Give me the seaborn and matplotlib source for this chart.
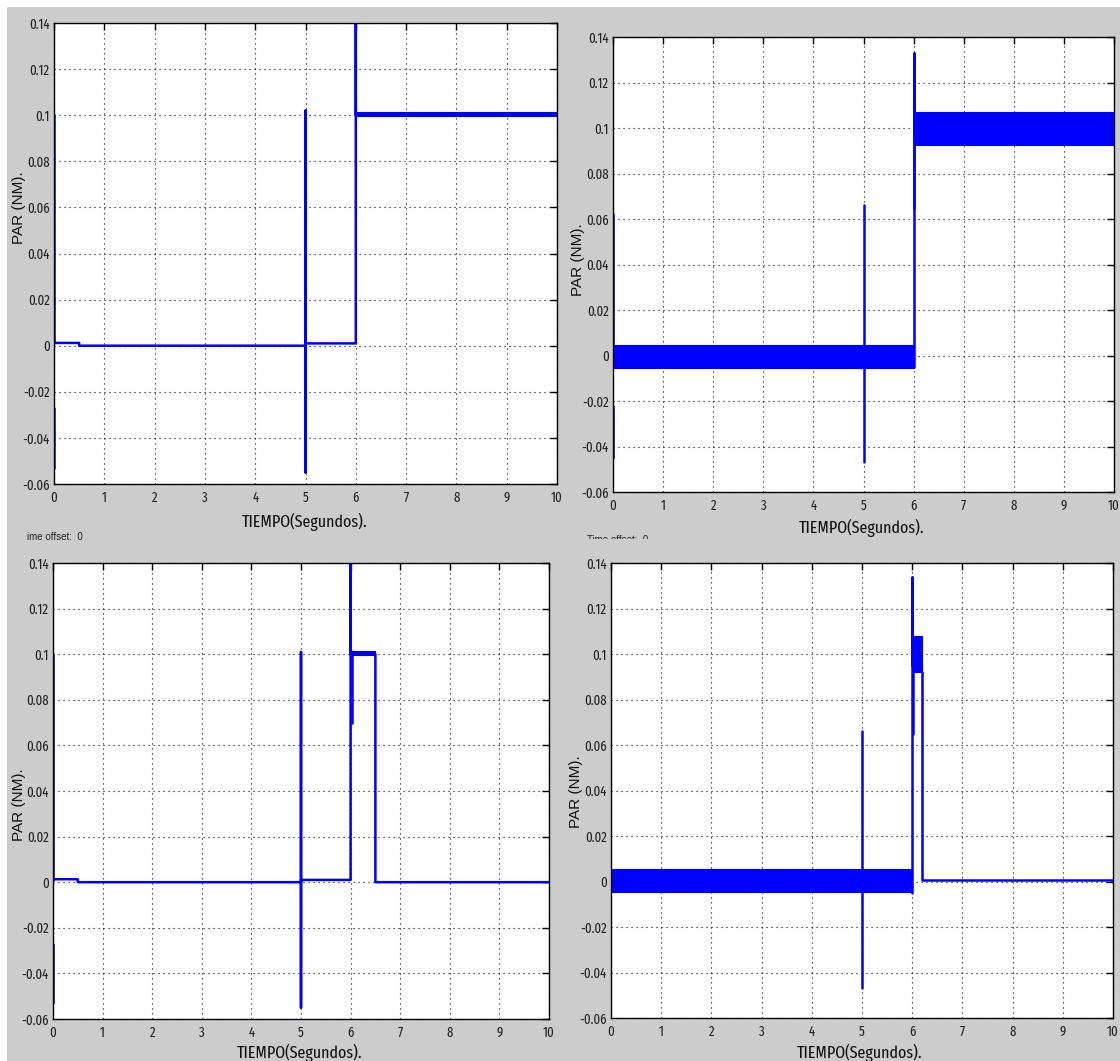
import matplotlib
matplotlib.use("Agg")
import matplotlib.pyplot as plt
import matplotlib.patches as mpatches
from matplotlib.transforms import Bbox
import pandas as pd
import seaborn as sns

# ---------------- data: torque (N·m) against time (s) ----------------
# Panel A: load step at 6 s, held to the end
a_piece = [0, 0, 1, 1, 2, 2, 2, 2, 2, 2, 2, 2, 2, 2, 2, 2]
a_time = [0, 0, 0, 0, 0, 0.5, 0.5, 5.0, 5.0, 5.0, 5.0, 6.0, 6.0, 6.0, 6.03, 10.0]
a_torque = [0.1, 0.001, -0.027, -0.053, 0.0012, 0.0012, 0.0, 0.0, 0.102, -0.055,
            0.001, 0.001, 0.15, 0.1, 0.1008, 0.1003]
a_band_time = [6.03, 10.0]
a_band_low = [0.0995, 0.0995]
a_band_high = [0.1012, 0.1012]

# Panel B: same load step, ripple band on the torque
b_piece = [0, 0, 1, 1, 2, 2, 3, 3, 3, 4, 4]
b_time = [0, 0, 0, 0, 5.0, 5.0, 6.0, 6.0, 6.0, 6.01, 6.01]
b_torque = [0.062, 0.0, -0.022, -0.045, -0.047, 0.066, -0.005, 0.133, 0.095, 0.107, 0.065]
b_band_time = [[0.0, 6.0], [6.02, 10.0]]
b_band_low = [[-0.0053, -0.0053], [0.0925, 0.0925]]
b_band_high = [[0.0048, 0.0048], [0.107, 0.107]]

# Panel C: load applied at 6 s, removed at 6.5 s
c_piece = [0, 0, 1, 1, 2, 2, 2, 2, 2, 2, 2, 2, 2, 2, 2, 2, 2, 2, 3, 3]
c_time = [0, 0, 0, 0, 0, 0.5, 0.5, 5.0, 5.0, 5.0, 5.0, 6.0, 6.0, 6.0, 6.03, 6.5, 6.5, 10.0,
          6.02, 6.02]
c_torque = [0.1, 0.001, -0.027, -0.053, 0.0013, 0.0013, 0.0, 0.0, 0.101, -0.055, 0.001,
            0.001, 0.15, 0.1, 0.101, 0.1, 0.0, 0.0, 0.07, 0.1]
c_band_time = [6.03, 6.5]
c_band_low = [0.0995, 0.0995]
c_band_high = [0.1015, 0.1015]

# Panel D: load applied at 6 s, removed at 6.2 s, ripple band
d_piece = [0, 0, 1, 1, 1, 2, 2, 3, 3, 3]
d_time = [5.0, 5.0, 6.0, 6.0, 6.0, 6.01, 6.01, 6.2, 6.2, 10.0]
d_torque = [-0.047, 0.066, -0.005, 0.134, 0.095, 0.107, 0.065, 0.092, 0.0007, 0.0007]
d_band_time = [[0.0, 6.0], [6.02, 6.2]]
d_band_low = [[-0.0046, -0.0046], [0.092, 0.092]]
d_band_high = [[0.0055, 0.0055], [0.108, 0.108]]

x_ticks = [0, 1, 2, 3, 4, 5, 6, 7, 8, 9, 10]
x_tick_labels = ["0", "1", "2", "3", "4", "5", "6", "7", "8", "9", "10"]
y_ticks = [-0.06, -0.04, -0.02, 0.0, 0.02, 0.04, 0.06, 0.08, 0.1, 0.12, 0.14]
y_tick_labels = ["-0.06", "-0.04", "-0.02", "0", "0.02", "0.04", "0.06", "0.08",
                 "0.1", "0.12", "0.14"]

x_title = "TIEMPO(Segundos)."
y_title = "PAR (NM)."

# ---------------- figure ----------------
sns.set_style("white")
narrow = ["Fira Sans Extra Condensed", "Roboto Condensed", "Liberation Sans", "DejaVu Sans"]
plt.rcParams["font.family"] = narrow

W, H = 1120, 1061
fig = plt.figure(figsize=(W / 100, H / 100), dpi=100)
fig.patch.set_facecolor("#cccccc")

# white margins along the top and the left edge
fig.patches.append(mpatches.Rectangle((0, 1 - 7 / H), 1, 7 / H, transform=fig.transFigure,
                                      facecolor="white", edgecolor="none", zorder=0))
fig.patches.append(mpatches.Rectangle((0, 0), 7 / W, 1, transform=fig.transFigure,
                                      facecolor="white", edgecolor="none", zorder=0))


def px_rect(x0, y0, x1, y1):
    return [x0 / W, 1 - y1 / H, (x1 - x0) / W, (y1 - y0) / H]


panels = [
    dict(rect=px_rect(54, 23, 557, 484), piece=a_piece, t=a_time, v=a_torque,
         bands=[(a_band_time, a_band_low, a_band_high)],
         ylab=(19, 208), xlab=(305, 522)),
    dict(rect=px_rect(613, 37, 1114, 492), piece=b_piece, t=b_time, v=b_torque,
         bands=list(zip(b_band_time, b_band_low, b_band_high)),
         ylab=(578, 260), xlab=(862, 528)),
    dict(rect=px_rect(53, 563, 549, 1019), piece=c_piece, t=c_time, v=c_torque,
         bands=[(c_band_time, c_band_low, c_band_high)],
         ylab=(19, 805), xlab=(300, 1053)),
    dict(rect=px_rect(611, 563, 1113, 1018), piece=d_piece, t=d_time, v=d_torque,
         bands=list(zip(d_band_time, d_band_low, d_band_high)),
         ylab=(576, 792), xlab=(860, 1053)),
]

blue = "#0000ff"
for p in panels:
    ax = fig.add_axes(p["rect"])
    ax.set_facecolor("white")
    for bt, lo, hi in p["bands"]:
        ax.fill_between(bt, lo, hi, color=blue, linewidth=0.8, edgecolor=blue, zorder=3)
    df = pd.DataFrame({"t": p["t"], "v": p["v"], "piece": p["piece"]})
    sns.lineplot(data=df, x="t", y="v", units="piece", estimator=None, sort=False,
                 color=blue, linewidth=1.8, ax=ax, zorder=4)
    ax.set_xlim(0, 10)
    ax.set_ylim(-0.06, 0.14)
    ax.set_xticks(x_ticks, x_tick_labels)
    ax.set_yticks(y_ticks, y_tick_labels)
    ax.set_xlabel("")
    ax.set_ylabel("")
    ax.grid(True, linestyle=(0, (1, 3.5)), color="black", linewidth=0.8)
    ax.set_axisbelow(True)
    ax.tick_params(direction="in", top=True, right=True, length=5, width=1,
                   labelsize=10, labelcolor="#222222", color="black", pad=3)
    ax.tick_params(axis="x", pad=5)
    for s in ax.spines.values():
        s.set_color("black")
        s.set_linewidth(1.0)
        s.set_zorder(5)

    yx, yy = p["ylab"]
    fig.text(yx / W, 1 - yy / H, y_title, rotation=90, ha="center", va="center",
             fontsize=11, family=["Liberation Sans", "DejaVu Sans"], color="#111111")
    xx, xy = p["xlab"]
    fig.text(xx / W, 1 - xy / H, x_title, ha="center", va="center", fontsize=12.5,
             color="#111111")

# scope footer fragments between the rows
fig.text(27 / W, 1 - 537 / H, "ime offset:  0", ha="left", va="center", fontsize=7,
         family=["Liberation Sans", "DejaVu Sans"], color="#222222")
frag = fig.text(587 / W, 1 - 540 / H, "Time offset:  0", ha="left", va="center",
                fontsize=7, family=["Liberation Sans", "DejaVu Sans"], color="#222222")
frag.set_clip_box(Bbox.from_extents(580, H - 539, 660, H - 532))
frag.set_clip_on(True)

fig.savefig("out.png", dpi=100, facecolor=fig.get_facecolor())
